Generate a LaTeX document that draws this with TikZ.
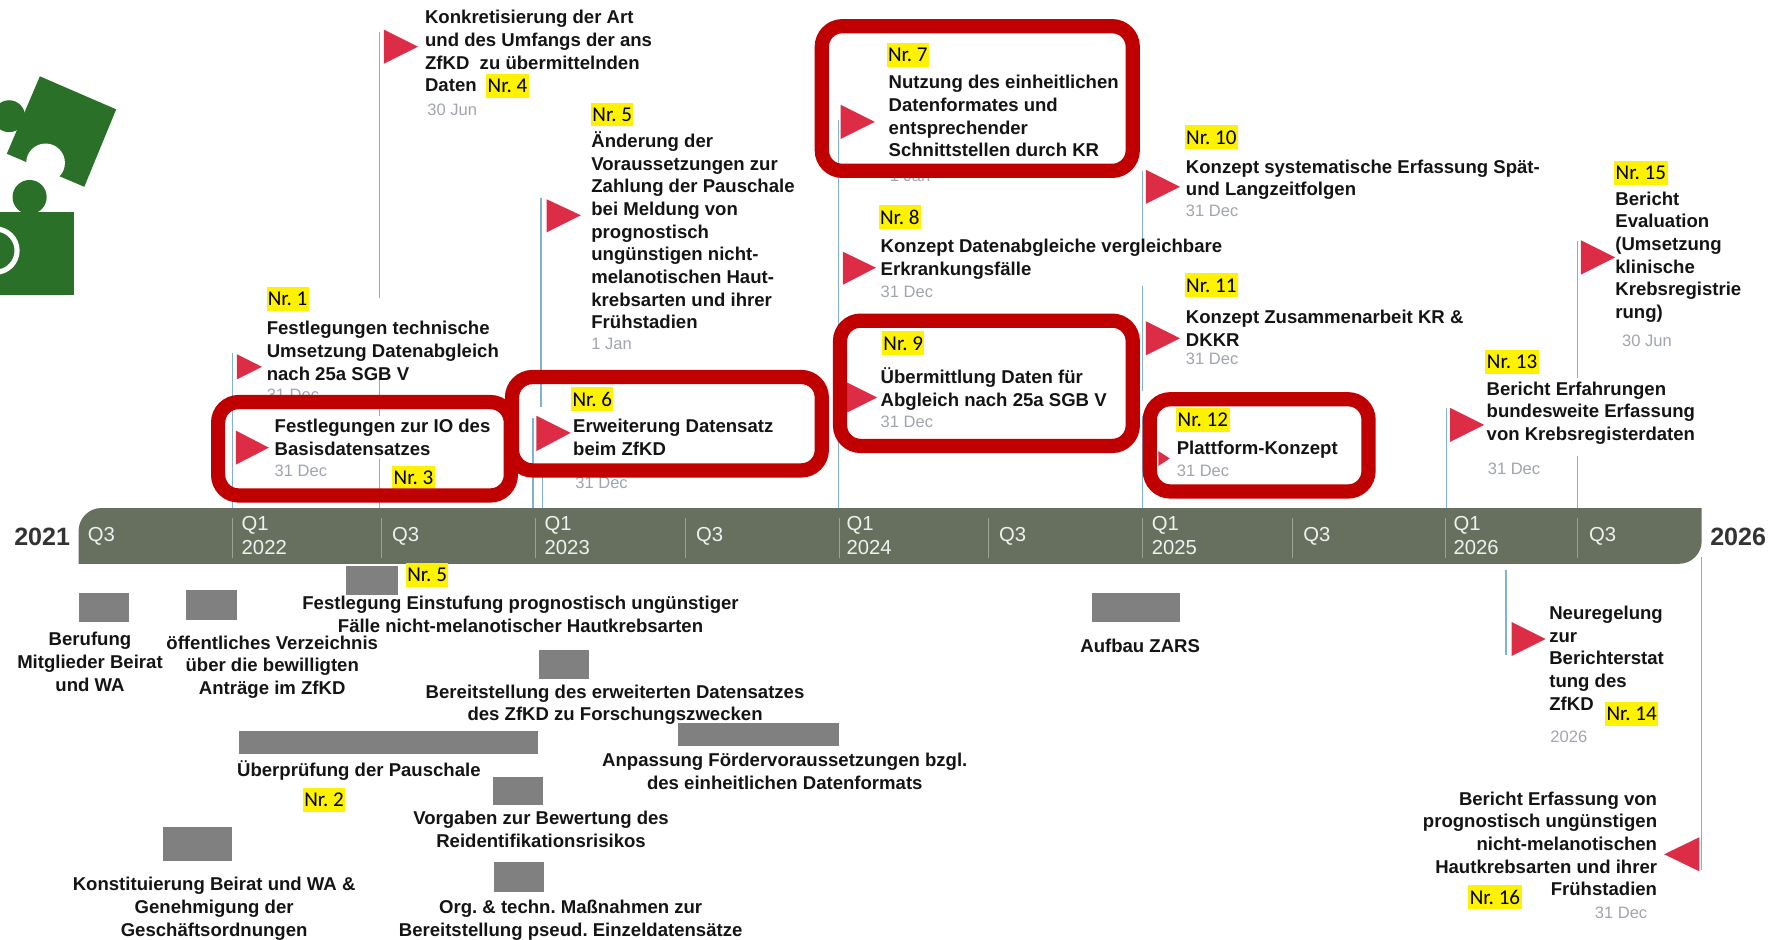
\documentclass[tikz,border=0pt]{standalone}
\usepackage{fontspec}
\setmainfont{Liberation Sans}
\newfontfamily\tagfont{Carlito}
\frenchspacing
\definecolor{barcol}{HTML}{676F5E}
\definecolor{polecol}{HTML}{7FB2D4}
\definecolor{flagcol}{HTML}{DC2C46}
\definecolor{boxcol}{HTML}{C00000}
\definecolor{greycol}{HTML}{808080}
\definecolor{datecol}{HTML}{A0A4AC}
\definecolor{puzzlecol}{HTML}{2B7028}
\begin{document}
\begin{tikzpicture}[x=1pt,y=-1pt,
    txt/.style={inner sep=0pt,anchor=north west,align=left,text=black!92,font=\fontsize{16.3}{19.9}\selectfont\bfseries},
    ctxt/.style={txt,anchor=north,align=center},
    rtxt/.style={txt,anchor=north east,align=right},
    datum/.style={inner sep=0pt,anchor=west,text=datecol,font=\fontsize{14.5}{16}\selectfont},
    nrtag/.style={fill=yellow,inner sep=0pt,minimum width=37pt,minimum height=21pt,text=black,font=\tagfont\fontsize{18.5}{20}\selectfont},
    nrtagb/.style={nrtag,minimum width=47pt},
    quarter/.style={inner sep=0pt,anchor=west,align=left,text=white!90!barcol,font=\fontsize{17.8}{21.5}\selectfont},
    year/.style={inner sep=0pt,text=black!80,font=\fontsize{22}{24}\selectfont\bfseries},
    pole/.style={polecol,line width=1.2pt},
    tick/.style={white!35!barcol,line width=1pt},
    flag/.style={fill=flagcol},
    greybar/.style={fill=greycol},
    redbox/.style={draw=boxcol,line width=12.5pt,rounded corners=18pt}]
    \useasboundingbox (0,0) rectangle (1568,825);
    % puzzle
    \fill[puzzlecol] (35,67) -- (102,96) -- (74,164) -- (6,135) -- cycle;
    \fill[puzzlecol] (8,102) circle (14);
    \fill[white] (40,143) circle (17);
    \fill[puzzlecol] (26,173) circle (15);
    \fill[puzzlecol] (0,186) rectangle (65,259);
    \draw[white,line width=4.5pt] (-4,220) circle (19);
    % poles
    \draw[pole] (204,310) -- (204,446);
    \draw[pole] (333,28) -- (333,262);
    \draw[pole] (333,332) -- (333,365);
    \draw[pole] (333,403) -- (333,446);
    \draw[pole] (475,174) -- (475,357);
    \draw[pole] (476,407) -- (476,446);
    \draw[pole] (468,367) -- (468,446);
    \draw[pole] (736,105) -- (736,446);
    \draw[pole] (1003,150) -- (1003,210);
    \draw[pole] (1003,251) -- (1003,343);
    \draw[pole] (1003,365) -- (1003,446);
    \draw[pole] (1270,358) -- (1270,446);
    \draw[pole] (1385,212) -- (1385,332);
    \draw[pole] (1385,400) -- (1385,446);
    \draw[pole] (1322,500) -- (1322,575);
    \draw[pole] (1494,489) -- (1494,764);
    % flags
    \fill[flag] (337,26) --++(0,30) --++(30,-15) -- cycle;
    \fill[flag] (480,175) --++(0,29) --++(30,-15) -- cycle;
    \fill[flag] (208,311) --++(0,22) --++(22,-11) -- cycle;
    \fill[flag] (207,378) --++(0,30) --++(29,-15) -- cycle;
    \fill[flag] (471,365) --++(0,31) --++(30,-16) -- cycle;
    \fill[flag] (738,92) --++(0,30) --++(30,-15) -- cycle;
    \fill[flag] (740,221) --++(0,29) --++(29,-15) -- cycle;
    \fill[flag] (740,334) --++(0,30) --++(30,-15) -- cycle;
    \fill[flag] (1006,149) --++(0,30) --++(30,-15) -- cycle;
    \fill[flag] (1006,282) --++(0,30) --++(30,-15) -- cycle;
    \fill[flag] (1017,396) --++(0,13) --++(10,-6.5) -- cycle;
    \fill[flag] (1273,358) --++(0,30) --++(30,-15) -- cycle;
    \fill[flag] (1388,211) --++(0,30) --++(30,-15) -- cycle;
    \fill[flag] (1327,546) --++(0,30) --++(30,-15) -- cycle;
    \fill[flag] (1492,735) --++(0,30) --++(-31,-15) -- cycle;
    % timeline
    \fill[barcol] (69,495) -- (69,466) .. controls (69,455) and (78,446) .. (89,446) -- (1494,446)
        -- (1494,475) .. controls (1494,486) and (1485,495) .. (1474,495) -- cycle;
    \draw[tick] (204,455) -- (204,490);
    \draw[tick] (335,455) -- (335,490);
    \draw[tick] (470,455) -- (470,490);
    \draw[tick] (602,455) -- (602,490);
    \draw[tick] (737,455) -- (737,490);
    \draw[tick] (868,455) -- (868,490);
    \draw[tick] (1003,455) -- (1003,490);
    \draw[tick] (1135,455) -- (1135,490);
    \draw[tick] (1269,455) -- (1269,490);
    \draw[tick] (1385,455) -- (1385,490);
    \node[quarter] (q1) at (77,471) {Q3};
    \node[quarter] (q2) at (212,470) {Q1\\2022};
    \node[quarter] (q3) at (344,471) {Q3};
    \node[quarter] (q4) at (478,470) {Q1\\2023};
    \node[quarter] (q5) at (611,471) {Q3};
    \node[quarter] (q6) at (743,470) {Q1\\2024};
    \node[quarter] (q7) at (877,471) {Q3};
    \node[quarter] (q8) at (1011,470) {Q1\\2025};
    \node[quarter] (q9) at (1144,471) {Q3};
    \node[quarter] (q10) at (1276,470) {Q1\\2026};
    \node[quarter] (q11) at (1395,471) {Q3};
    \node[year] (y1) at (37,471) {2021};
    \node[year] (y2) at (1526,471) {2026};
    % above the bar
    \node[txt] (t4) at (373,9) {Konkretisierung der Art\\und des Umfangs der ans\\ZfKD\ \ zu übermittelnden\\Daten};
    \node[nrtag] (n4) at (445.5,75.5) {Nr. 4};
    \node[datum] (d4) at (375,96) {30 Jun};
    \node[nrtag] (n5) at (537.5,100.5) {Nr. 5};
    \node[txt] (t5) at (519,115.5) {Änderung der\\Voraussetzungen zur\\Zahlung der Pauschale\\bei Meldung von\\prognostisch\\ungünstigen nicht-\\melanotischen Haut-\\krebsarten und ihrer\\Frühstadien};
    \node[datum] (d5) at (519,302) {1 Jan};
    \node[nrtag] (n1) at (252.5,262.5) {Nr. 1};
    \node[txt] (t1) at (234,282) {Festlegungen technische\\Umsetzung Datenabgleich\\nach 25a SGB V};
    \node[datum] (d1) at (234,347) {31 Dec};
    \node[txt] (t3) at (241,368) {Festlegungen zur IO des\\Basisdatensatzes};
    \node[datum] (d3) at (241,413) {31 Dec};
    \node[nrtag] (n3) at (363,419.5) {Nr. 3};
    \node[nrtag] (n6) at (520,350.5) {Nr. 6};
    \node[txt] (t6) at (503,368) {Erweiterung Datensatz\\beim ZfKD};
    \node[datum] (d6) at (505,424) {31 Dec};
    \node[datum] (d7) at (781,154) {1 Jan};
    \node[nrtag] (n7) at (797,48.5) {Nr. 7};
    \node[txt] (t7) at (780,66) {Nutzung des einheitlichen\\Datenformates und\\entsprechender\\Schnittstellen durch KR};
    \node[nrtag] (n8) at (790,190.5) {Nr. 8};
    \node[txt] (t8) at (773,210) {Konzept Datenabgleiche vergleichbare\\Erkrankungsfälle};
    \node[datum] (d8) at (773,256) {31 Dec};
    \node[nrtag] (n9) at (793,301.5) {Nr. 9};
    \node[txt] (t9) at (773,323) {Übermittlung Daten für\\Abgleich nach 25a SGB V};
    \node[datum] (d9) at (773,370) {31 Dec};
    \node[nrtagb] (n10) at (1063.5,120.5) {Nr. 10};
    \node[txt] (t10) at (1041,140) {Konzept systematische Erfassung Spät-\\und Langzeitfolgen};
    \node[datum] (d10) at (1041,185) {31 Dec};
    \node[nrtagb] (n11) at (1063.5,250.5) {Nr. 11};
    \node[txt] (t11) at (1041,272) {Konzept Zusammenarbeit KR \&\\DKKR};
    \node[datum] (d11) at (1041,315) {31 Dec};
    \node[nrtagb] (n12) at (1056,368.5) {Nr. 12};
    \node[txt] (t12) at (1033,387) {Plattform-Konzept};
    \node[datum] (d12) at (1033,413) {31 Dec};
    \node[nrtagb] (n13) at (1327.5,317.5) {Nr. 13};
    \node[txt] (t13) at (1305,335) {Bericht Erfahrungen\\bundesweite Erfassung\\von Krebsregisterdaten};
    \node[datum] (d13) at (1306,412) {31 Dec};
    \node[nrtagb] (n15) at (1440.5,151.5) {Nr. 15};
    \node[txt] (t15) at (1418,168) {Bericht\\Evaluation\\(Umsetzung\\klinische\\Krebsregistrie\\rung)};
    \node[datum] (d15) at (1424,299) {30 Jun};
    % below the bar
    \fill[greybar] (69,521) rectangle (113,546);
    \node[ctxt] (t17) at (79,555) {Berufung\\Mitglieder Beirat\\und WA};
    \fill[greybar] (163,518) rectangle (208,544);
    \node[ctxt] (t18) at (239,558) {öffentliches Verzeichnis\\über die bewilligten\\Anträge im ZfKD};
    \fill[greybar] (304,497) rectangle (349,522);
    \node[nrtag] (n5b) at (375,504.5) {Nr. 5};
    \node[ctxt] (t19) at (457,523) {Festlegung Einstufung prognostisch ungünstiger\\Fälle nicht-melanotischer Hautkrebsarten};
    \fill[greybar] (473,571) rectangle (517,596);
    \node[ctxt] (t20) at (540,601) {Bereitstellung des erweiterten Datensatzes\\des ZfKD zu Forschungszwecken};
    \fill[greybar] (210,642) rectangle (472,662);
    \node[txt] (t2) at (208,668) {Überprüfung der Pauschale};
    \node[nrtag] (n2) at (284.5,702.5) {Nr. 2};
    \fill[greybar] (595,635) rectangle (737,655);
    \node[ctxt] (t21) at (689,661) {Anpassung Fördervoraussetzungen bzgl.\\des einheitlichen Datenformats};
    \fill[greybar] (433,682) rectangle (477,707);
    \node[ctxt] (t22) at (475,712) {Vorgaben zur Bewertung des\\Reidentifikationsrisikos};
    \fill[greybar] (143,726) rectangle (204,756);
    \node[ctxt] (t23) at (188,770) {Konstituierung Beirat und WA \&\\Genehmigung der\\Geschäftsordnungen};
    \fill[greybar] (434,757) rectangle (478,783);
    \node[ctxt] (t24) at (501,790) {Org. \& techn. Maßnahmen zur\\Bereitstellung pseud. Einzeldatensätze};
    \fill[greybar] (959,521) rectangle (1036,546);
    \node[ctxt] (t25) at (1001,561) {Aufbau ZARS};
    \node[txt] (t14) at (1360,532) {Neuregelung\\zur\\Berichterstat\\tung des\\ZfKD};
    \node[nrtagb] (n14) at (1432.5,626.5) {Nr. 14};
    \node[datum] (d14) at (1361,647) {2026};
    \node[rtxt] (t16) at (1455,695) {Bericht Erfassung von\\prognostisch ungünstigen\\nicht-melanotischen\\Hautkrebsarten und ihrer\\Frühstadien};
    \node[nrtagb] (n16) at (1312.5,787.5) {Nr. 16};
    \node[datum] (d16) at (1400,801) {31 Dec};
    % red frames
    \draw[redbox] (191.5,353) rectangle (448.5,435);
    \draw[redbox] (449.5,331) rectangle (721.5,413);
    \draw[redbox] (721.5,23) rectangle (994.5,150);
    \draw[redbox] (737.5,281.5) rectangle (994.5,391.5);
    \draw[redbox] (1009.5,350.5) rectangle (1201.5,431.5);
\end{tikzpicture}
\end{document}
